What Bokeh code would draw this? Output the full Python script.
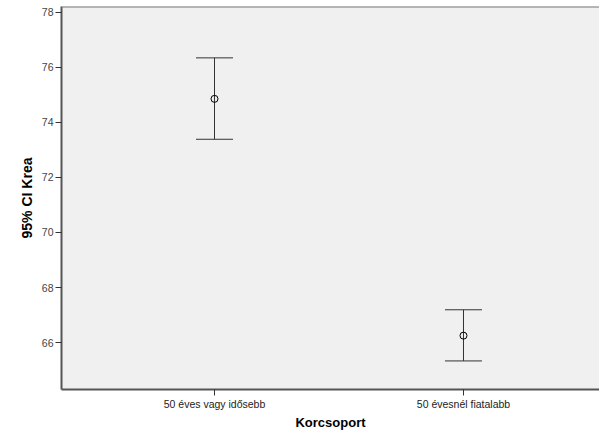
from bokeh.plotting import figure
from bokeh.models import (ColumnDataSource, Whisker, TeeHead, FixedTicker, Span, Title)
from bokeh.embed import file_html
from bokeh.resources import INLINE

# Data
categories = ["50 éves vagy idősebb", "50 évesnél fiatalabb"]
means = [74.86, 66.25]
upper = [76.35, 67.19]
lower = [73.39, 65.33]
y_ticks = [66, 68, 70, 72, 74, 76, 78]

xpos = [i + 1 for i in range(len(categories))]

src = ColumnDataSource(dict(x=xpos, mean=means, upper=upper, lower=lower))

FONT = "Liberation Sans"
Y_END = 78.218

p = figure(width=599, height=432,
           x_range=(0.3855, 2.5462), y_range=(64.291, Y_END),
           output_backend="svg", toolbar_location=None,
           min_border_left=61, min_border_right=0, min_border_top=6, min_border_bottom=43)

p.background_fill_color = "#f0f0f0"
p.border_fill_color = "white"
p.outline_line_color = None
p.grid.visible = False

# Axes
p.yaxis.ticker = FixedTicker(ticks=y_ticks)
p.yaxis.axis_label = "95% CI Krea"
p.yaxis.axis_label_text_font = FONT
p.yaxis.axis_label_text_font_style = "bold"
p.yaxis.axis_label_text_font_size = "14px"
p.yaxis.axis_label_text_color = "black"
p.yaxis.axis_label_standoff = 4
p.yaxis.major_label_text_font = FONT
p.yaxis.major_label_text_font_size = "10.5px"
p.yaxis.major_label_text_color = "#444444"
p.yaxis.major_label_standoff = 2
p.yaxis.major_tick_out = 6
p.yaxis.major_tick_in = 0
p.yaxis.major_tick_line_color = "#333333"
p.yaxis.minor_tick_line_color = None
p.yaxis.axis_line_color = "#555555"
p.yaxis.axis_line_width = 2

p.xaxis.ticker = FixedTicker(ticks=xpos)
p.xaxis.major_label_overrides = {x: c for x, c in zip(xpos, categories)}
p.xaxis.major_label_text_font = FONT
p.xaxis.major_label_text_font_size = "10.5px"
p.xaxis.major_label_text_color = "#222222"
p.xaxis.major_label_standoff = 2
p.xaxis.major_tick_out = 6
p.xaxis.major_tick_in = 0
p.xaxis.major_tick_line_color = "#333333"
p.xaxis.minor_tick_line_color = None
p.xaxis.axis_line_color = "#555555"
p.xaxis.axis_line_width = 2

# X axis title, below the axis
p.add_layout(Title(text="Korcsoport", align="center", offset=9, standoff=0,
                   text_font=FONT, text_font_style="bold", text_font_size="13px",
                   text_color="black"), "below")

# Top border
p.add_layout(Span(location=Y_END, dimension="width", line_color="#777777", line_width=2))

# Error bars
w = Whisker(source=src, base="x", upper="upper", lower="lower",
            line_color="#333333", line_width=1,
            upper_head=TeeHead(size=37, line_color="#333333", line_width=1),
            lower_head=TeeHead(size=37, line_color="#333333", line_width=1))
p.add_layout(w)

p.scatter("x", "mean", source=src, marker="circle", size=7,
          fill_color=None, line_color="black", line_width=1)

open("out.html", "w").write(file_html(p, INLINE))
